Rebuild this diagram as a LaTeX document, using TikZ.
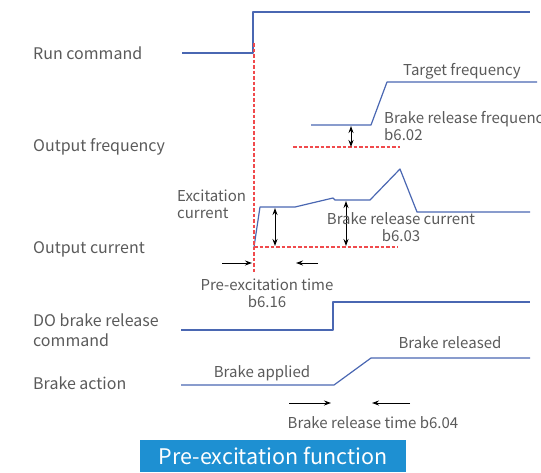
\documentclass[tikz,border=0pt]{standalone}
\usepackage{fontspec}
\setmainfont{Noto Sans CJK SC}
\usetikzlibrary{arrows.meta}
\definecolor{wavec}{HTML}{4A67B2}
\definecolor{txt}{HTML}{5A5A5A}
\definecolor{reddash}{HTML}{F04A4C}
\definecolor{titlebg}{HTML}{1E90D2}
\begin{document}
\begin{tikzpicture}[x=1pt,y=-1pt,
  lbl/.style={text=txt,font=\fontsize{16}{20}\selectfont,inner sep=0pt},
  ilbl/.style={text=txt,font=\fontsize{15}{17}\selectfont,inner sep=0pt},
  wave/.style={draw=wavec,line width=1.2pt,line join=round},
  refline/.style={draw=reddash,dash pattern=on 3.5pt off 2pt,line width=1.2pt},
  dimarrow/.style={{Stealth[length=7pt,width=5pt]}-{Stealth[length=7pt,width=5pt]},line width=1pt,black},
  tarrow/.style={-{Stealth[length=7pt,width=5pt]},line width=0.9pt,black}]
\useasboundingbox (0,0) rectangle (541,472);

% left labels
\node[lbl,anchor=base west] (run) at (33,59) {Run command};
\node[lbl,anchor=base west] (ofreq) at (33,151) {Output frequency};
\node[lbl,anchor=base west] (ocur) at (33,253) {Output current};
\node[lbl,anchor=base west,align=left] (dobr) at (33,346) {DO brake release\\command};
\node[lbl,anchor=base west] (bact) at (33,389) {Brake action};

% waveforms
\draw[wave] (182,53) -- (253,53) -- (253,12) -- (530,12);
\draw[wave] (311,125) -- (371,125) -- (387,82) -- (537,82);
\draw[wave] (254,247) -- (260,207) -- (295,207) -- (333,198) -- (335,200) -- (370,200) -- (400,169) -- (417,212) -- (530,212);
\draw[wave] (181,330) -- (333,330) -- (333,302) -- (530,302);
\draw[wave] (181,385) -- (334,385) -- (371,358) -- (530,358);

% reference lines
\draw[refline] (254,43) -- (254,273);
\draw[refline] (293,147) -- (400,147);
\draw[refline] (254,247) -- (398,247);

% dimension arrows
\coordinate (f1) at (351,126); \coordinate (f2) at (351,147);
\draw[dimarrow] (f1) -- (f2);
\coordinate (c1) at (275,208); \coordinate (c2) at (275,246);
\draw[dimarrow] (c1) -- (c2);
\coordinate (d1) at (346,201); \coordinate (d2) at (346,246);
\draw[dimarrow] (d1) -- (d2);

% time arrows
\coordinate (pa1) at (222,263); \coordinate (pa2) at (252,263);
\coordinate (pb1) at (318,263); \coordinate (pb2) at (296,263);
\draw[tarrow] (pa1) -- (pa2);
\draw[tarrow] (pb1) -- (pb2);
\coordinate (ba1) at (289,403); \coordinate (ba2) at (331,403);
\coordinate (bb1) at (410,403); \coordinate (bb2) at (372,403);
\draw[tarrow] (ba1) -- (ba2);
\draw[tarrow] (bb1) -- (bb2);

% inner labels
\node[ilbl,anchor=base] (tf) at (462,75) {Target frequency};
\node[ilbl,anchor=base west,align=left] (brf) at (384,140) {Brake release frequency\\b6.02};
\node[ilbl,anchor=base west,align=left] (exc) at (177,218) {Excitation\\current};
\node[ilbl,anchor=base,align=center] (brc) at (401,241) {Brake release current\\b6.03};
\node[ilbl,anchor=base,align=center] (pet) at (267,307) {Pre-excitation time\\b6.16};
\node[ilbl,anchor=base] (brd) at (450,348) {Brake released};
\node[ilbl,anchor=base] (bap) at (262,377) {Brake applied};
\node[ilbl,anchor=base] (brt) at (373,428) {Brake release time b6.04};

% title
\node[fill=titlebg,minimum width=266pt,minimum height=32pt,inner sep=0pt,text=white,font=\fontsize{21.5}{24}\selectfont] (title) at (273,456) {Pre-excitation function};
\end{tikzpicture}
\end{document}
